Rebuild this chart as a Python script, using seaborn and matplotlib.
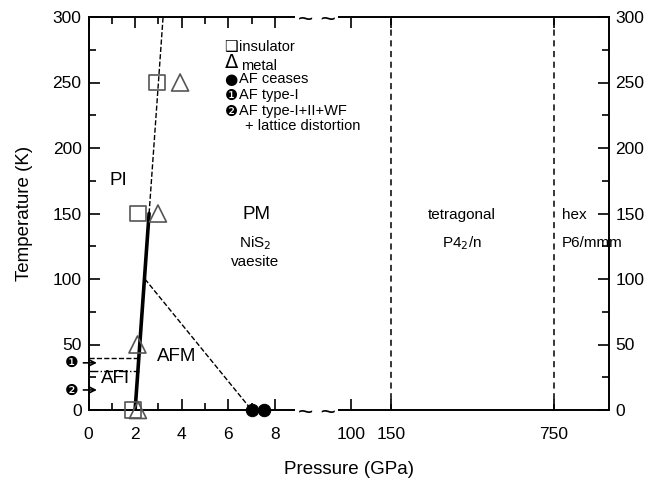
import numpy as np
import matplotlib
matplotlib.use("Agg")
import matplotlib.pyplot as plt
import matplotlib.transforms as mtransforms
import seaborn as sns

# ---------------- data ----------------
insulator_p = [1.92, 2.12, 2.93]
insulator_T = [0, 150, 250]
metal_p = [2.12, 2.10, 2.98, 3.93]
metal_T = [0, 50, 150, 250]
afcease_p = [7.0, 7.55]
afcease_T = [0, 0]
mit_solid_p = [2.0, 2.6]
mit_solid_T = [0, 150]
mit_dash_p = [2.6, 3.2]
mit_dash_T = [150, 300]
afm_dash_p = [2.42, 7.0]
afm_dash_T = [100, 0]
typeI_p = [0, 2.2]
typeI_T = [40, 40]
typeII_p = [0, 2.15]
typeII_T = [30, 30]
structure_p = [150, 750]
x_major = [0, 2, 4, 6, 8, 100, 150, 750]
x_minor = [1, 3, 5, 7]
y_major = [0, 50, 100, 150, 200, 250, 300]
y_minor = [25, 75, 125, 175, 225, 275]

# broken pressure axis (piecewise linear scale)
P_KNOTS = [0, 9.2, 95, 150, 950]
U_KNOTS = [0, 214.4, 258.5, 302.5, 520]


def fwd(p):
    return np.interp(p, P_KNOTS, U_KNOTS)


def inv(u):
    return np.interp(u, U_KNOTS, P_KNOTS)


sns.set_theme(style="ticks")
plt.rcParams["font.family"] = ["Liberation Sans", "DejaVu Sans"]
plt.rcParams["text.color"] = "black"
plt.rcParams["axes.labelcolor"] = "black"
plt.rcParams["xtick.color"] = "black"
plt.rcParams["ytick.color"] = "black"

fig = plt.figure(figsize=(6.5, 4.79), dpi=100)
ax = fig.add_axes([88.5 / 650, 1 - 410 / 479, 520 / 650, 393 / 479])
ax.set_xscale("function", functions=(fwd, inv))
ax.set_xlim(0, 950)
ax.set_ylim(0, 300)

lk = dict(ax=ax, estimator=None, sort=False, legend=False)
sns.lineplot(x=mit_solid_p, y=mit_solid_T, color="black", lw=2.6, **lk)
sns.lineplot(x=mit_dash_p, y=mit_dash_T, color="black", lw=1.0, linestyle="--", **lk)
sns.lineplot(x=afm_dash_p, y=afm_dash_T, color="black", lw=1.0, linestyle="--", **lk)
sns.lineplot(x=typeI_p, y=typeI_T, color="black", lw=1.0, linestyle="--", **lk)
sns.lineplot(x=typeII_p, y=typeII_T, color="black", lw=1.0, linestyle="-.", **lk)
for p in structure_p:
    ax.axvline(p, color="black", lw=1.1, linestyle="--", dashes=(4, 3))

sns.scatterplot(x=insulator_p, y=insulator_T, marker="s", s=125, facecolor="none",
                edgecolor="#555555", color="#555555", linewidth=1.2, ax=ax, zorder=3,
                clip_on=False)
sns.scatterplot(x=metal_p, y=metal_T, marker="^", s=150, facecolor="none",
                edgecolor="#555555", color="#555555", linewidth=1.2, ax=ax, zorder=3,
                clip_on=False)
sns.scatterplot(x=afcease_p, y=afcease_T, marker="o", s=80, color="black",
                edgecolor="black", ax=ax, zorder=4, clip_on=False)

# ticks
ax.set_xticks(x_major)
ax.set_xticklabels([str(v) for v in x_major])
ax.set_xticks(x_minor, minor=True)
ax.set_yticks(y_major)
ax.set_yticks(y_minor, minor=True)
ax.tick_params(which="both", direction="in", top=True, right=True, labelright=True,
               labelsize=12.5, width=1.2, color="black", labelcolor="black")
ax.tick_params(which="major", length=8)
ax.tick_params(which="minor", length=5)
ax.tick_params(axis="x", pad=12)
ax.tick_params(axis="y", pad=5)
for s in ax.spines.values():
    s.set_linewidth(1.4)
    s.set_color("black")

ax.set_xlabel("Pressure (GPa)", fontsize=13.5, labelpad=14)
ax.set_ylabel("Temperature (K)", fontsize=13.5, labelpad=14)

# axis break marks
bx = (316.5 - 88.5) / 520
btr = mtransforms.offset_copy(ax.transAxes, fig=fig, y=-2.5, units="points")
for yy in (0, 1):
    ax.text(bx, yy, "~ ~", transform=btr, ha="center", va="center",
            fontsize=19, zorder=10, clip_on=False,
            bbox=dict(boxstyle="square,pad=0.1", fc="white", ec="none"))

# region labels
ax.text(1.27, 175, "PI", fontsize=13.5, ha="center", va="center")
ax.text(7.23, 149, "PM", fontsize=13.5, ha="center", va="center")
ax.text(3.8, 40.5, "AFM", fontsize=13.5, ha="center", va="center")
ax.text(1.14, 24.4, "AFI", fontsize=13.5, ha="center", va="center")
ax.text(7.15, 127.5, "NiS$_2$", fontsize=11, ha="center", va="center")
ax.text(7.15, 113, "vaesite", fontsize=11, ha="center", va="center")
ax.text(409, 149, "tetragonal", fontsize=11, ha="center", va="center")
ax.text(409, 127.5, "P4$_2$/n", fontsize=11, ha="center", va="center")
ax.text(779, 149, "hex", fontsize=11, ha="left", va="center")
ax.text(779, 127.5, "P6/mmm", fontsize=11, ha="left", va="center")


# key block
def fy(py):
    return (410 - py) / 393


def fx(px):
    return (px - 88.5) / 520


kt = dict(transform=ax.transAxes, fontsize=10.5, va="center", ha="left")
gt = dict(transform=ax.transAxes, va="center", ha="center", family="DejaVu Sans")
ax.text(fx(231), fy(46), "❑", fontsize=11, **gt)
ax.text(fx(239), fy(47), "insulator", **kt)
ax.text(fx(232), fy(62), "Δ", fontsize=14, **gt)
ax.text(fx(241), fy(66), "metal", **kt)
ax.text(fx(231), fy(79), "●", fontsize=11, **gt)
ax.text(fx(239), fy(79), "AF ceases", **kt)
ax.text(fx(231), fy(95), "❶", fontsize=10.5, **gt)
ax.text(fx(239), fy(95), "AF type-I", **kt)
ax.text(fx(231), fy(111), "❷", fontsize=10.5, **gt)
ax.text(fx(239), fy(111), "AF type-I+II+WF", **kt)
ax.text(fx(245), fy(126), "+ lattice distortion", **kt)

# type markers with arrows on the left
for lab, t in (("❶", 36), ("❷", 15.3)):
    ax.annotate(lab, xy=(0.36, t), xytext=(-18, 0), textcoords="offset points",
                ha="center", va="center", fontsize=11, annotation_clip=False,
                family="DejaVu Sans",
                arrowprops=dict(arrowstyle="->", lw=1.2, color="black",
                                shrinkA=1, shrinkB=0))

fig.savefig("out.png", dpi=100)
